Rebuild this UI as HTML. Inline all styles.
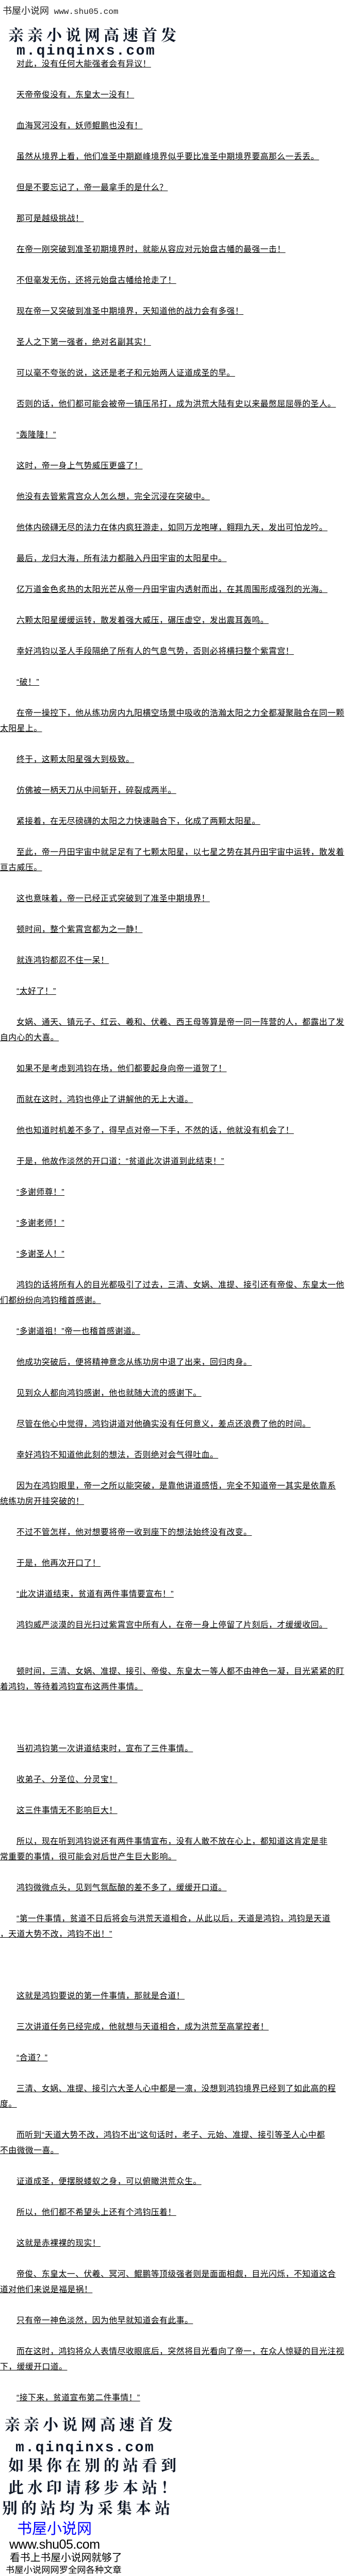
<!DOCTYPE html>
<html><head><meta charset="utf-8"><style>
html{margin:0;padding:0;width:700px;height:5062px;overflow:hidden;background:#fff;}
body{margin:0;padding:0;background:#fff;width:700px;height:5062px;position:relative;overflow:hidden;}
.l{position:absolute;white-space:nowrap;font-family:"Liberation Sans","Noto Sans CJK SC",sans-serif;font-size:15.8px;line-height:20px;height:20px;letter-spacing:0.5px;color:#000;text-decoration:underline;}
.i{left:32px;}
.w{left:0;}
.a{position:absolute;white-space:nowrap;color:#000;}
.hd{font-family:"Noto Serif CJK SC","Liberation Serif",serif;font-weight:bold;font-size:30px;line-height:32px;height:32px;letter-spacing:7px;color:#111a2a;}
.url{font-family:"Liberation Mono",monospace;font-weight:bold;font-size:28px;line-height:30px;height:30px;letter-spacing:2.5px;color:#111a2a;}
</style></head><body>
<div class="a" style="left:5px;top:10px;font-family:'Liberation Sans','Noto Sans CJK SC',sans-serif;font-size:18px;line-height:22px;color:#222;">书屋小说网<span style="font-family:'Liberation Mono',monospace;font-size:16px;"> www.shu05.com</span></div>
<div class="a hd" style="left:16px;top:50px;">亲亲小说网高速首发</div>
<div class="a url" style="left:32px;top:85px;">m.qinqinxs.com</div>

<div class="l i" style="top:115px">对此，没有任何大能强者会有异议！</div>
<div class="l i" style="top:175px">天帝帝俊没有，东皇太一没有！</div>
<div class="l i" style="top:235px">血海冥河没有，妖师鲲鹏也没有！</div>
<div class="l i" style="top:295px">虽然从境界上看，他们准圣中期巅峰境界似乎要比准圣中期境界要高那么一丢丢。</div>
<div class="l i" style="top:355px">但是不要忘记了，帝一最拿手的是什么？</div>
<div class="l i" style="top:415px">那可是越级挑战！</div>
<div class="l i" style="top:475px">在帝一刚突破到准圣初期境界时，就能从容应对元始盘古幡的最强一击！</div>
<div class="l i" style="top:535px">不但毫发无伤，还将元始盘古幡给抢走了！</div>
<div class="l i" style="top:595px">现在帝一又突破到准圣中期境界，天知道他的战力会有多强！</div>
<div class="l i" style="top:655px">圣人之下第一强者，绝对名副其实！</div>
<div class="l i" style="top:715px">可以毫不夸张的说，这还是老子和元始两人证道成圣的早。</div>
<div class="l i" style="top:775px">否则的话，他们都可能会被帝一镇压吊打，成为洪荒大陆有史以来最憋屈屈辱的圣人。</div>
<div class="l i" style="top:835px">“轰隆隆！”</div>
<div class="l i" style="top:895px">这时，帝一身上气势威压更盛了！</div>
<div class="l i" style="top:955px">他没有去管紫霄宫众人怎么想，完全沉浸在突破中。</div>
<div class="l i" style="top:1015px">他体内磅礴无尽的法力在体内疯狂游走，如同万龙咆哮，翱翔九天，发出可怕龙吟。</div>
<div class="l i" style="top:1075px">最后，龙归大海，所有法力都融入丹田宇宙的太阳星中。</div>
<div class="l i" style="top:1135px">亿万道金色炙热的太阳光芒从帝一丹田宇宙内透射而出，在其周围形成强烈的光海。</div>
<div class="l i" style="top:1195px">六颗太阳星缓缓运转，散发着强大威压，碾压虚空，发出震耳轰鸣。</div>
<div class="l i" style="top:1255px">幸好鸿钧以圣人手段隔绝了所有人的气息气势，否则必将横扫整个紫霄宫！</div>
<div class="l i" style="top:1315px">“破！”</div>
<div class="l i" style="top:1375px">在帝一操控下，他从练功房内九阳横空场景中吸收的浩瀚太阳之力全都凝聚融合在同一颗</div>
<div class="l w" style="top:1405px">太阳星上。</div>
<div class="l i" style="top:1465px">终于，这颗太阳星强大到极致。</div>
<div class="l i" style="top:1525px">仿佛被一柄天刀从中间斩开，碎裂成两半。</div>
<div class="l i" style="top:1585px">紧接着，在无尽磅礴的太阳之力快速融合下，化成了两颗太阳星。</div>
<div class="l i" style="top:1645px">至此，帝一丹田宇宙中就足足有了七颗太阳星，以七星之势在其丹田宇宙中运转，散发着</div>
<div class="l w" style="top:1675px">亘古威压。</div>
<div class="l i" style="top:1735px">这也意味着，帝一已经正式突破到了准圣中期境界！</div>
<div class="l i" style="top:1795px">顿时间，整个紫霄宫都为之一静！</div>
<div class="l i" style="top:1855px">就连鸿钧都忍不住一呆！</div>
<div class="l i" style="top:1915px">“太好了！”</div>
<div class="l i" style="top:1975px">女娲、通天、镇元子、红云、羲和、伏羲、西王母等算是帝一同一阵营的人，都露出了发</div>
<div class="l w" style="top:2005px">自内心的大喜。</div>
<div class="l i" style="top:2065px">如果不是考虑到鸿钧在场，他们都要起身向帝一道贺了！</div>
<div class="l i" style="top:2125px">而就在这时，鸿钧也停止了讲解他的无上大道。</div>
<div class="l i" style="top:2185px">他也知道时机差不多了，得早点对帝一下手，不然的话，他就没有机会了！</div>
<div class="l i" style="top:2245px">于是，他故作淡然的开口道：“贫道此次讲道到此结束！”</div>
<div class="l i" style="top:2305px">“多谢师尊！”</div>
<div class="l i" style="top:2365px">“多谢老师！”</div>
<div class="l i" style="top:2425px">“多谢圣人！”</div>
<div class="l i" style="top:2485px">鸿钧的话将所有人的目光都吸引了过去，三清、女娲、准提、接引还有帝俊、东皇太一他</div>
<div class="l w" style="top:2515px">们都纷纷向鸿钧稽首感谢。</div>
<div class="l i" style="top:2575px">“多谢道祖！”帝一也稽首感谢道。</div>
<div class="l i" style="top:2635px">他成功突破后，便将精神意念从练功房中退了出来，回归肉身。</div>
<div class="l i" style="top:2695px">见到众人都向鸿钧感谢，他也就随大流的感谢下。</div>
<div class="l i" style="top:2755px">尽管在他心中觉得，鸿钧讲道对他确实没有任何意义，差点还浪费了他的时间。</div>
<div class="l i" style="top:2815px">幸好鸿钧不知道他此刻的想法，否则绝对会气得吐血。</div>
<div class="l i" style="top:2875px">因为在鸿钧眼里，帝一之所以能突破，是靠他讲道感悟，完全不知道帝一其实是依靠系</div>
<div class="l w" style="top:2905px">统练功房开挂突破的！</div>
<div class="l i" style="top:2965px">不过不管怎样，他对想要将帝一收到座下的想法始终没有改变。</div>
<div class="l i" style="top:3025px">于是，他再次开口了！</div>
<div class="l i" style="top:3085px">“此次讲道结束，贫道有两件事情要宣布！”</div>
<div class="l i" style="top:3145px">鸿钧威严淡漠的目光扫过紫霄宫中所有人，在帝一身上停留了片刻后，才缓缓收回。</div>
<div class="l i" style="top:3235px">顿时间，三清、女娲、准提、接引、帝俊、东皇太一等人都不由神色一凝，目光紧紧的盯</div>
<div class="l w" style="top:3265px">着鸿钧，等待着鸿钧宣布这两件事情。</div>
<div class="l i" style="top:3385px">当初鸿钧第一次讲道结束时，宣布了三件事情。</div>
<div class="l i" style="top:3445px">收弟子、分圣位、分灵宝！</div>
<div class="l i" style="top:3505px">这三件事情无不影响巨大！</div>
<div class="l i" style="top:3565px">所以，现在听到鸿钧说还有两件事情宣布，没有人敢不放在心上，都知道这肯定是非</div>
<div class="l w" style="top:3595px">常重要的事情，很可能会对后世产生巨大影响。</div>
<div class="l i" style="top:3655px">鸿钧微微点头，见到气氛酝酿的差不多了，缓缓开口道。</div>
<div class="l i" style="top:3715px">“第一件事情，贫道不日后将会与洪荒天道相合，从此以后，天道是鸿钧，鸿钧是天道</div>
<div class="l w" style="top:3745px">，天道大势不改，鸿钧不出！”</div>
<div class="l i" style="top:3865px">这就是鸿钧要说的第一件事情，那就是合道！</div>
<div class="l i" style="top:3925px">三次讲道任务已经完成，他就想与天道相合，成为洪荒至高掌控者！</div>
<div class="l i" style="top:3985px">“合道？”</div>
<div class="l i" style="top:4045px">三清、女娲、准提、接引六大圣人心中都是一凛，没想到鸿钧境界已经到了如此高的程</div>
<div class="l w" style="top:4075px">度。</div>
<div class="l i" style="top:4135px">而听到“天道大势不改，鸿钧不出”这句话时，老子、元始、准提、接引等圣人心中都</div>
<div class="l w" style="top:4165px">不由微微一喜。</div>
<div class="l i" style="top:4225px">证道成圣，便摆脱蝼蚁之身，可以俯瞰洪荒众生。</div>
<div class="l i" style="top:4285px">所以，他们都不希望头上还有个鸿钧压着！</div>
<div class="l i" style="top:4345px">这就是赤裸裸的现实！</div>
<div class="l i" style="top:4405px">帝俊、东皇太一、伏羲、冥河、鲲鹏等顶级强者则是面面相觑，目光闪烁，不知道这合</div>
<div class="l w" style="top:4435px">道对他们来说是福是祸！</div>
<div class="l i" style="top:4495px">只有帝一神色淡然，因为他早就知道会有此事。</div>
<div class="l i" style="top:4555px">而在这时，鸿钧将众人表情尽收眼底后，突然将目光看向了帝一，在众人惊疑的目光注视</div>
<div class="l w" style="top:4585px">下，缓缓开口道。</div>
<div class="l i" style="top:4645px">“接下来，贫道宣布第二件事情！”</div>

<div class="a hd" style="left:9px;top:4688px;">亲亲小说网高速首发</div>
<div class="a url" style="left:30px;top:4737px;">m.qinqinxs.com</div>
<div class="a hd" style="left:16px;top:4767px;">如果你在别的站看到</div>
<div class="a hd" style="left:16px;top:4810px;">此水印请移步本站！</div>
<div class="a hd" style="left:4px;top:4850px;">别的站均为采集本站</div>
<div class="a" style="left:33px;top:4893px;font-family:'Liberation Sans','Noto Sans CJK SC',sans-serif;font-size:29px;line-height:32px;height:32px;color:#0000ff;">书屋小说网</div>
<div class="a" style="left:18px;top:4925px;font-family:'Liberation Sans',sans-serif;font-size:25px;line-height:28px;height:28px;letter-spacing:-0.5px;">www.shu05.com</div>
<div class="a" style="left:19px;top:4954px;font-family:'Liberation Sans','Noto Sans CJK SC',sans-serif;font-size:19.8px;line-height:22px;height:22px;">看书上书屋小说网就够了</div>
<div class="a" style="left:11px;top:4978px;font-family:'Liberation Sans','Noto Sans CJK SC',sans-serif;font-size:17.3px;line-height:20px;height:20px;">书屋小说网网罗全网各种文章</div>
<div class="a" style="left:5px;top:5002px;font-family:'Liberation Sans','Noto Sans CJK SC',sans-serif;font-size:17.5px;line-height:20px;height:20px;">请移步至<span style="color:#ff0000">书屋小说网</span>看更多章节</div>
</body></html>
